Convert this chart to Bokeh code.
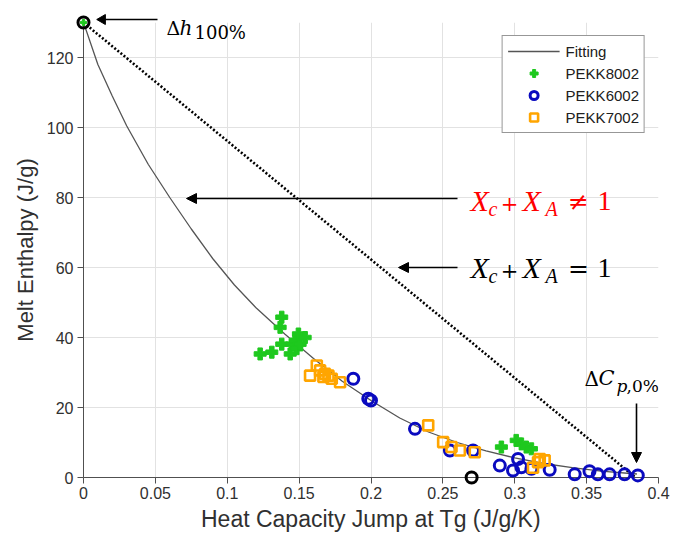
import math
from bokeh.plotting import figure
from bokeh.models import Range1d, Arrow, NormalHead, Label, Legend, LegendItem, FixedTicker
from bokeh.core.properties import value
from bokeh.embed import file_html
from bokeh.resources import INLINE

# ---------------- data ----------------
fit_x = [0, 0.01, 0.02, 0.03, 0.045, 0.06, 0.075, 0.09, 0.105, 0.12, 0.14, 0.16, 0.18,
         0.20, 0.22, 0.24, 0.26, 0.28, 0.30, 0.32, 0.34, 0.36, 0.385]
fit_y = [130, 118, 109, 100.5, 89.5, 80, 71, 62.5, 55, 48.5, 41, 34, 27.5,
         22, 17, 13, 10, 7.6, 5.6, 4, 2.8, 1.8, 1.0]

ideal_x = [0.0, 0.384]
ideal_y = [130, 0]

pekk8002_x = [0.1229, 0.131, 0.1368, 0.1379, 0.1379, 0.1438, 0.1449, 0.1472, 0.1484, 0.1495,
              0.1507, 0.1542, 0.2907, 0.301, 0.3046, 0.308, 0.3116]
pekk8002_y = [35.3, 35.8, 42.9, 45.8, 38.1, 35.3, 38.1, 39.1, 36.8, 41.0,
              38.1, 40.0, 8.7, 10.6, 9.6, 8.7, 8.2]

pekk6002_x = [0.1877, 0.1981, 0.2, 0.2306, 0.2549, 0.271, 0.2896, 0.2988, 0.3023, 0.3046,
              0.3116, 0.3243, 0.3417, 0.352, 0.3578, 0.366, 0.3764, 0.3856]
pekk6002_y = [28.2, 22.5, 22.0, 13.9, 7.7, 7.7, 3.4, 2.0, 5.3, 2.9,
              2.5, 2.2, 0.9, 1.8, 0.9, 0.9, 0.9, 0.6]

pekk7002_x = [0.1576, 0.1623, 0.1646, 0.1669, 0.168, 0.1704, 0.1727, 0.1785, 0.2398, 0.2502,
              0.256, 0.2618, 0.2722, 0.3127, 0.3162, 0.3174, 0.3208]
pekk7002_y = [29.1, 32.0, 30.6, 28.7, 29.6, 29.1, 28.2, 27.2, 14.9, 10.1,
              8.7, 7.7, 7.2, 2.8, 4.4, 5.3, 4.9]

end_x = [0.0, 0.27]
end_y = [130, 0]

x_ticks = [0, 0.05, 0.1, 0.15, 0.2, 0.25, 0.3, 0.35, 0.4]
x_tick_labels = ["0", "0.05", "0.1", "0.15", "0.2", "0.25", "0.3", "0.35", "0.4"]
y_ticks = [0, 20, 40, 60, 80, 100, 120]
y_tick_labels = ["0", "20", "40", "60", "80", "100", "120"]

# ---------------- figure ----------------
L, R, T, B = 83, 39, 22, 65
W, H = 697, 542
XMIN, XMAX, YMIN, YMAX = 0.0, 0.4, 0.0, 130.0
fw, fh = W - L - R, H - T - B


def X(px):
    return XMIN + (px - L) * (XMAX - XMIN) / fw


def Y(py):
    return YMIN + (T + fh - py) * (YMAX - YMIN) / fh


p = figure(width=W, height=H, x_range=Range1d(XMIN, XMAX), y_range=Range1d(YMIN, YMAX),
           output_backend="svg", toolbar_location=None,
           min_border_left=L, min_border_right=R, min_border_top=T, min_border_bottom=B)
p.outline_line_color = None
p.background_fill_color = "white"

axis_col = "#505050"
for ax in (p.xaxis[0], p.yaxis[0]):
    ax.axis_line_color = axis_col
    ax.major_tick_line_color = axis_col
    ax.minor_tick_line_color = None
    ax.major_tick_out = 6
    ax.major_tick_in = 0
    ax.major_label_text_font = "Liberation Sans"
    ax.major_label_text_font_size = "16px"
    ax.major_label_text_color = "#303030"
    ax.axis_label_text_font = "Liberation Sans"
    ax.axis_label_text_font_style = "normal"
    ax.axis_label_text_color = "#303030"

p.xaxis.axis_label_text_font_size = "23px"
p.yaxis.axis_label_text_font_size = "22px"
p.xaxis.ticker = FixedTicker(ticks=x_ticks)
p.xaxis.major_label_overrides = dict(zip(x_ticks, x_tick_labels))
p.yaxis.ticker = FixedTicker(ticks=y_ticks)
p.yaxis.major_label_overrides = dict(zip(y_ticks, y_tick_labels))
p.xaxis.axis_label = "Heat Capacity Jump at Tg (J/g/K)"
p.yaxis.axis_label = "Melt Enthalpy (J/g)"
p.xaxis.major_label_standoff = 3
p.yaxis.major_label_standoff = 4
p.xaxis.axis_label_standoff = 4
p.yaxis.axis_label_standoff = 6

p.grid.grid_line_color = "#e2e2e2"
p.grid.grid_line_width = 1
p.xgrid.ticker = FixedTicker(ticks=x_ticks)
p.ygrid.ticker = FixedTicker(ticks=y_ticks)

# ---------------- glyphs ----------------
r_fit = p.line(fit_x, fit_y, line_color="#555555", line_width=1.3)
p.line(ideal_x, ideal_y, line_color="black", line_width=2.6, line_dash="2 2")

r8 = p.scatter(pekk8002_x, pekk8002_y, marker="plus", size=12, fill_color="#1ec81e",
               line_color="#1ec81e", line_width=1, level="overlay")
r6 = p.scatter(pekk6002_x, pekk6002_y, marker="circle", size=11, fill_color=None,
               line_color="#0a0abf", line_width=3, level="overlay")
r7 = p.scatter(pekk7002_x, pekk7002_y, marker="square", size=10, fill_color=None,
               line_color="#ffa500", line_width=2.6, level="overlay")
p.scatter(end_x, end_y, marker="circle", size=11, fill_color=None,
          line_color="black", line_width=3, level="overlay")
p.scatter(end_x[:1], end_y[:1], marker="plus", size=6, fill_color="#1ec81e",
          line_color="#1ec81e", level="overlay")

legend = Legend(items=[LegendItem(label="Fitting", renderers=[r_fit]),
                       LegendItem(label="PEKK8002", renderers=[r8]),
                       LegendItem(label="PEKK6002", renderers=[r6]),
                       LegendItem(label="PEKK7002", renderers=[r7])],
                location="top_right", orientation="vertical",
                border_line_color="#303030", border_line_width=1,
                background_fill_color="white", background_fill_alpha=1,
                label_text_font="Liberation Sans", label_text_font_size="15px",
                label_text_color="#202020",
                padding=5, spacing=2, margin=13, glyph_width=52, glyph_height=20,
                label_height=20, label_standoff=6)
p.add_layout(legend)

# ---------------- annotations ----------------
head = dict(size=10, fill_color="black", line_color="black")
# top arrow lies just above the frame: draw it with unclipped glyphs
p.segment(x0=[X(157)], y0=[Y(19)], x1=[X(104)], y1=[Y(19)], line_color="black",
          line_width=1.6, level="overlay")
p.scatter(x=[X(102)], y=[Y(19)], marker="triangle", size=10, angle=math.pi / 2,
          fill_color="black", line_color="black", level="overlay")
p.add_layout(Arrow(end=NormalHead(**head), x_start=X(457), y_start=Y(198), x_end=X(186), y_end=Y(198),
                   line_width=1.6, line_color="black"))
p.add_layout(Arrow(end=NormalHead(**head), x_start=X(457), y_start=Y(267), x_end=X(398), y_end=Y(267),
                   line_width=1.6, line_color="black"))
p.add_layout(Arrow(end=NormalHead(**head), x_start=X(636), y_start=Y(403), x_end=X(636), y_end=Y(462),
                   line_width=1.6, line_color="black"))

SERIF = "Liberation Serif"
SERIF2 = "DejaVu Serif"


def txt(px, base, s, size, color="black", italic=False, align="left", font=SERIF):
    # base = wanted baseline in pixels; compensate for the renderer's baseline offset
    py = base - 0.44 * size
    p.add_layout(Label(x=X(px), y=Y(py), text=s, text_font=font, text_font_size=f"{size}px",
                       text_font_style="italic" if italic else "normal", text_color=color,
                       text_baseline="alphabetic", text_align=align))


def gtxt(px, base, s, size, italic=False, font=SERIF2):
    # unclipped text glyph (for text that reaches above the frame)
    p.text(x=[X(px)], y=[Y(base)], text=[s], text_font=value(font),
           text_font_size=value(f"{size}px"),
           text_font_style="italic" if italic else "normal", text_color="black",
           text_baseline="alphabetic", text_align="left", level="overlay")


# Delta h_100%
gtxt(166, 27, "Δ", 19)
gtxt(179, 27, "h", 20, italic=True)
gtxt(194, 32, "100%", 18)

# X_c + X_A != 1 (red) and = 1 (black)
for base, sym, col in ((213, "≠", "#ff0000"), (280, "=", "black")):
    txt(470, base, "X", 30, col, True)
    txt(488, base + 4, "c", 20, col, True)
    txt(509, base - 1, "+", 21, col, align="center", font=SERIF2)
    txt(522, base, "X", 30, col, True)
    txt(545, base + 4, "A", 20, col, True)
    txt(578, base - 1, sym, 25, col, align="center", font=SERIF2)
    txt(604, base, "1", 28, col, align="center")

# Delta C_p,0%
txt(584, 387, "Δ", 20, font=SERIF2)
txt(598, 387, "C", 21, italic=True, font=SERIF2)
txt(616, 393, "p", 17, italic=True, font=SERIF2)
txt(626, 393, ",0%", 17, font=SERIF2)

open("out.html", "w").write(file_html(p, INLINE))
